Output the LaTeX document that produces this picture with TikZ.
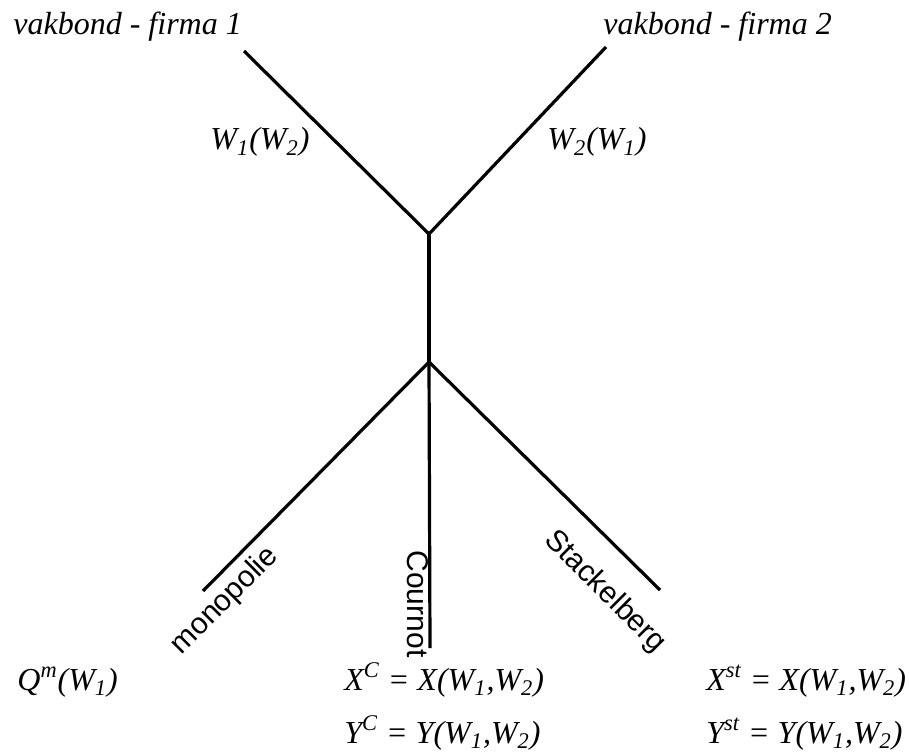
\documentclass[tikz,border=0pt]{standalone}
\usepackage{fontspec}
\setmainfont{Liberation Serif}
\setsansfont{Liberation Sans}

\tikzset{
  branch/.style={line width=1.6pt},
  lbl/.style={font=\fontsize{16}{19}\selectfont\itshape, inner sep=0pt, anchor=base west},
  game/.style={font=\fontsize{15}{18}\selectfont\sffamily, inner sep=0pt},
}

\begin{document}
\begin{tikzpicture}[x=0.5pt, y=-0.5pt]
  \useasboundingbox (0,0) rectangle (909,754);
  % tree
  \coordinate (up) at (429,234);
  \coordinate (down) at (429,362);
  \coordinate (u1) at (244,51);
  \coordinate (u2) at (606,47);
  \coordinate (mono) at (203,591);
  \coordinate (cour) at (430,648);
  \coordinate (stack) at (660,590);
  \draw[branch] (u1) -- (up) -- (u2);
  \draw[branch] (up) -- (down);
  \draw[branch] (mono) -- (down) -- (stack);
  \draw[branch] (down) -- (cour);
  % players and reaction functions
  \node[lbl] (v1) at (13,35) {vakbond - firma 1};
  \node[lbl] (v2) at (603,35) {vakbond - firma 2};
  \node[lbl] (r1) at (210,150) {W\textsubscript{1}(W\textsubscript{2})};
  \node[lbl] (r2) at (547,150) {W\textsubscript{2}(W\textsubscript{1})};
  % market forms
  \node[game, rotate=45] (m) at (225,601) {monopolie};
  \node[game, rotate=-90] (c) at (418,604) {Cournot};
  \node[game, rotate=-45] (s) at (605,592) {Stackelberg};
  % outcomes
  \node[lbl] (q) at (17,690) {Q\textsuperscript{m}(W\textsubscript{1})};
  \node[lbl] (xc) at (344,690) {X\textsuperscript{C} = X(W\textsubscript{1},W\textsubscript{2})};
  \node[lbl] (yc) at (344,743) {Y\textsuperscript{C} = Y(W\textsubscript{1},W\textsubscript{2})};
  \node[lbl] (xs) at (706,690) {X\textsuperscript{st} = X(W\textsubscript{1},W\textsubscript{2})};
  \node[lbl] (ys) at (706,743) {Y\textsuperscript{st} = Y(W\textsubscript{1},W\textsubscript{2})};
\end{tikzpicture}
\end{document}
